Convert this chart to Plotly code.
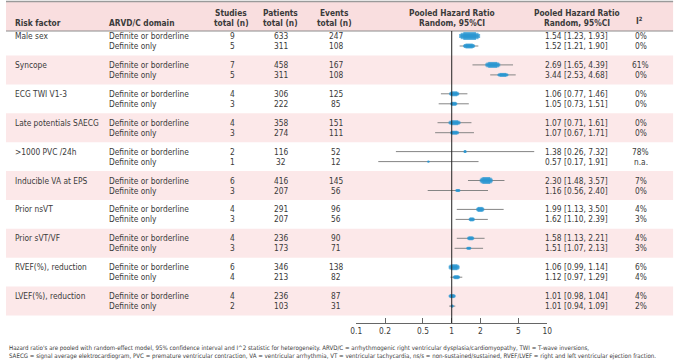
import plotly.graph_objects as go

# ---------------- data ----------------
risk_factors = ["Male sex", "Syncope", "ECG TWI V1-3", "Late potentials SAECG", ">1000 PVC /24h",
                "Inducible VA at EPS", "Prior nsVT", "Prior sVT/VF", "RVEF(%), reduction", "LVEF(%), reduction"]
domains = ["Definite or borderline", "Definite only"]

studies_db = [9, 7, 4, 4, 2, 6, 4, 4, 6, 4]
studies_d = [5, 5, 3, 3, 1, 3, 3, 3, 4, 2]
patients_db = [633, 458, 306, 358, 116, 416, 291, 236, 346, 236]
patients_d = [311, 311, 222, 274, 32, 207, 207, 173, 213, 103]
events_db = [247, 167, 125, 151, 52, 145, 96, 90, 138, 87]
events_d = [108, 108, 85, 111, 12, 56, 56, 71, 82, 31]

hr_db = [1.54, 2.69, 1.06, 1.07, 1.38, 2.30, 1.99, 1.58, 1.06, 1.01]
lo_db = [1.23, 1.65, 0.77, 0.71, 0.26, 1.48, 1.13, 1.13, 0.99, 0.98]
hi_db = [1.93, 4.39, 1.46, 1.61, 7.32, 3.57, 3.50, 2.21, 1.14, 1.04]
hr_d = [1.52, 3.44, 1.05, 1.07, 0.57, 1.16, 1.62, 1.51, 1.12, 1.01]
lo_d = [1.21, 2.53, 0.73, 0.67, 0.17, 0.56, 1.10, 1.07, 0.97, 0.94]
hi_d = [1.90, 4.68, 1.51, 1.71, 1.91, 2.40, 2.39, 2.13, 1.29, 1.09]

i2_db = ["0%", "61%", "0%", "0%", "78%", "7%", "4%", "4%", "6%", "4%"]
i2_d = ["0%", "0%", "0%", "0%", "n.a.", "0%", "3%", "3%", "4%", "2%"]

tick_vals = [0.1, 0.2, 0.5, 1, 2, 5, 10]
tick_text = ["0.1", "0.2", "0.5", "1", "2", "5", "10"]

footnote = [
    "Hazard ratio's are pooled with random-effect model, 95% confidence interval and I^2 statistic for heterogeneity. "
    "ARVD/C = arrhythmogenic right ventricular dysplasia/cardiomyopathy, TWI = T-wave inversions,",
    "SAECG = signal average elektrocardiogram, PVC = premature ventricular contraction, VA = ventricular arrhythmia, "
    "VT = ventricular tachycardia, ns/s = non-sustained/sustained, RVEF/LVEF = right and left ventricular ejection fraction.",
]

# ---------------- styles ----------------
W, H = 685, 361
FONT = "DejaVu Sans Condensed, Liberation Sans, sans-serif"
TXT = "#3a3a3a"
BLUE = "#2796d2"
PINK = "#fce8e9"
HEAD_PINK = "#f9dedf"
FS = 8.3
# marker (width, height) in px, style only
msize_db = [(21, 8), (15, 6), (10, 5), (12, 5), (3, 3), (13, 7), (8, 5), (7, 4), (11, 6), (7, 4)]
msize_d = [(12, 5), (11, 4), (7, 4), (9, 4), (2, 2), (5, 3), (6, 4), (5, 3), (7, 4), (3, 3)]

ROW0, PITCH, GAP = 36.0, 28.9, 10.0


def px(x):
    return x / W


y1 = [ROW0 + PITCH * k for k in range(len(risk_factors))]
y2 = [v + GAP for v in y1]

fig = go.Figure()

shapes = []
shapes.append(dict(type="rect", xref="paper", yref="y", x0=0, x1=px(678), y0=2, y1=31,
                   fillcolor=HEAD_PINK, line=dict(width=0), layer="below"))
for k in range(len(risk_factors)):
    if k % 2 == 1:
        c = (y1[k] + y2[k]) / 2
        shapes.append(dict(type="rect", xref="paper", yref="y", x0=0, x1=px(678), y0=c - 14.5, y1=c + 14.5,
                           fillcolor=PINK, line=dict(width=0), layer="below"))
shapes.append(dict(type="line", xref="paper", yref="y", x0=0, x1=px(678), y0=1.5, y1=1.5,
                   line=dict(color="#9a9a9a", width=1.5)))
shapes.append(dict(type="line", xref="paper", yref="y", x0=0, x1=px(678), y0=31, y1=31,
                   line=dict(color="#8c8c8c", width=1)))
shapes.append(dict(type="line", xref="x", yref="y", x0=1, x1=1, y0=31, y1=323,
                   line=dict(color="#222222", width=1)))

# CI lines
ys = y1 + y2
hrs = hr_db + hr_d
los = lo_db + lo_d
his = hi_db + hi_d
fig.add_trace(go.Scatter(
    x=hrs, y=ys, mode="markers", marker=dict(size=1, color="rgba(0,0,0,0)"),
    error_x=dict(type="data", symmetric=False,
                 array=[h - m for h, m in zip(his, hrs)],
                 arrayminus=[m - l for m, l in zip(hrs, los)],
                 color="#858585", thickness=1, width=0),
    hoverinfo="skip", showlegend=False, cliponaxis=False))

# ellipse-like markers built from layered horizontal strokes (line-ew length = 1.4 * size)
sizes = msize_db + msize_d
for fw, fh in [(1.0, 0.5), (0.85, 0.8), (0.6, 1.0)]:
    fig.add_trace(go.Scatter(
        x=hrs, y=ys, mode="markers",
        marker=dict(symbol="line-ew", size=[max(w * fw / 1.4, 1.2) for w, h in sizes],
                    line=dict(color=BLUE, width=[max(h * fh, 1.2) for w, h in sizes])),
        hoverinfo="skip", showlegend=False, cliponaxis=False))

ann = []


def t(x, y, text, anchor="left", size=FS, bold=False, color=TXT):
    if bold:
        text = "<b>" + text + "</b>"
    ann.append(dict(x=px(x), y=y, xref="paper", yref="y", text=text, showarrow=False,
                    xanchor=anchor, yanchor="middle", font=dict(family=FONT, size=size, color=color)))


# headers
t(7, 23, "Risk factor", bold=True)
t(103, 23, "ARVD/C domain", bold=True)
for cx, l1, l2 in [(229, "Studies", "total (n)"), (279, "Patients", "total (n)"), (334, "Events", "total (n)"),
                   (453, "Pooled Hazard Ratio", "Random, 95%CI"), (580, "Pooled Hazard Ratio", "Random, 95%CI")]:
    t(cx, 12.5, l1, anchor="center", bold=True)
    t(cx, 23, l2, anchor="center", bold=True)
t(644, 21, "I<sup>2</sup>", anchor="center", bold=True)

# rows
for k, name in enumerate(risk_factors):
    t(7, y1[k], name)
    t(103, y1[k], domains[0])
    t(103, y2[k], domains[1])
    t(230, y1[k], str(studies_db[k]), anchor="center")
    t(230, y2[k], str(studies_d[k]), anchor="center")
    t(279, y1[k], str(patients_db[k]), anchor="center")
    t(279, y2[k], str(patients_d[k]), anchor="center")
    t(335, y1[k], str(events_db[k]), anchor="center")
    t(335, y2[k], str(events_d[k]), anchor="center")
    t(580, y1[k], f"{hr_db[k]:.2f} [{lo_db[k]:.2f}, {hi_db[k]:.2f}]", anchor="center")
    t(580, y2[k], f"{hr_d[k]:.2f} [{lo_d[k]:.2f}, {hi_d[k]:.2f}]", anchor="center")
    t(645, y1[k], i2_db[k], anchor="center")
    t(645, y2[k], i2_d[k], anchor="center")

# footnote
t(1, 347.5, footnote[0], size=6.15)
t(1, 355.5, footnote[1], size=6.15)

fig.update_layout(
    width=W, height=H, margin=dict(l=0, r=0, t=0, b=0),
    paper_bgcolor="white", plot_bgcolor="rgba(0,0,0,0)",
    showlegend=False, shapes=shapes, annotations=ann,
    xaxis=dict(type="log", range=[-1, 1], domain=[px(356), px(550)], anchor="free",
               position=1 - 323 / H, showline=True, linecolor="#666666", linewidth=1,
               ticks="inside", ticklen=5, tickcolor="#666666", tickwidth=1,
               tickvals=tick_vals, ticktext=tick_text, showgrid=False, zeroline=False,
               tickfont=dict(family=FONT, size=FS, color=TXT), fixedrange=True),
    yaxis=dict(range=[H, 0], domain=[0, 1], visible=False, fixedrange=True),
)

fig.write_html("out.html", config={"displayModeBar": False},
               post_script="document.body.style.margin='0';document.body.style.overflow='hidden';")
